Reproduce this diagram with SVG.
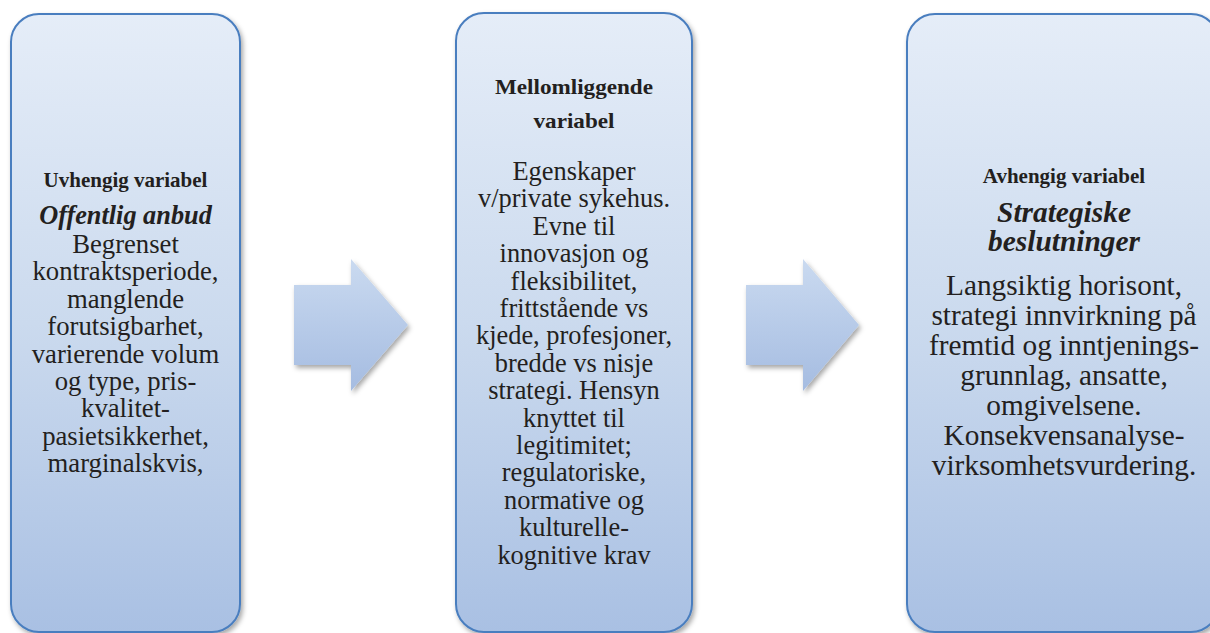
<svg xmlns="http://www.w3.org/2000/svg" width="1210" height="633" viewBox="0 0 1210 633">
  <defs>
    <linearGradient id="boxGrad" x1="0" y1="0" x2="0" y2="1">
      <stop offset="0" stop-color="#E5EDF8"/>
      <stop offset="0.5" stop-color="#CBDAEE"/>
      <stop offset="1" stop-color="#A9C0E3"/>
    </linearGradient>
    <linearGradient id="arrowGrad" x1="0" y1="0" x2="0" y2="1">
      <stop offset="0" stop-color="#CADAF0"/>
      <stop offset="1" stop-color="#A5BCE1"/>
    </linearGradient>
    <filter id="shadow" x="-10%" y="-10%" width="120%" height="120%">
      <feDropShadow dx="2" dy="3" stdDeviation="2.5" flood-color="#000" flood-opacity="0.35"/>
    </filter>
  </defs>
  <style>
    .box { fill: url(#boxGrad); stroke: #4A7EBF; stroke-width: 2; filter: url(#shadow); }
    .arrow { fill: url(#arrowGrad); filter: url(#shadow); }
    text { font-family: "Liberation Serif", "Times New Roman", serif; fill: #231F20; text-anchor: middle; }
    .hdr { font-weight: bold; font-size: 21px; }
    .hdr2 { font-weight: bold; font-size: 21px; }
    .ttl { font-weight: bold; font-style: italic; }
    .body1 { font-size: 26.7px; }
    .body2 { font-size: 26.4px; }
    .body3 { font-size: 29.3px; }
  </style>
  <rect width="1210" height="633" fill="#FFFFFF"/>

  <g id="connectors">
    <polygon class="arrow" points="294,285 351,285 351,259 408,325 351,391 351,365 294,365"/>
    <polygon class="arrow" points="746,285 803,285 803,259 859,325 803,391 803,365 746,365"/>
  </g>

  <g id="node-uvhengig">
    <rect class="box" x="11" y="14" width="229" height="618" rx="28" ry="28"/>
    <text class="hdr" x="125.5" y="187">Uvhengig variabel</text>
    <text class="ttl" x="125.5" y="224" font-size="26.3">Offentlig anbud</text>
    <text class="body1" x="125.5" y="253">Begrenset</text>
    <text class="body1" x="125.5" y="280.4">kontraktsperiode,</text>
    <text class="body1" x="125.5" y="307.8">manglende</text>
    <text class="body1" x="125.5" y="335.2">forutsigbarhet,</text>
    <text class="body1" x="125.5" y="362.6">varierende volum</text>
    <text class="body1" x="125.5" y="390">og type, pris-</text>
    <text class="body1" x="125.5" y="417.4">kvalitet-</text>
    <text class="body1" x="125.5" y="444.8">pasietsikkerhet,</text>
    <text class="body1" x="125.5" y="472.2">marginalskvis,</text>
  </g>

  <g id="node-mellomliggende">
    <rect class="box" x="456" y="13" width="236" height="619" rx="28" ry="28"/>
    <text class="hdr2" x="574" y="94" textLength="158" lengthAdjust="spacingAndGlyphs">Mellomliggende</text>
    <text class="hdr2" x="574" y="128" textLength="81" lengthAdjust="spacingAndGlyphs">variabel</text>
    <text class="body2" x="574" y="180">Egenskaper</text>
    <text class="body2" x="574" y="207.4">v/private sykehus.</text>
    <text class="body2" x="574" y="234.8">Evne til</text>
    <text class="body2" x="574" y="262.2">innovasjon og</text>
    <text class="body2" x="574" y="289.6">fleksibilitet,</text>
    <text class="body2" x="574" y="317">frittstående vs</text>
    <text class="body2" x="574" y="344.4">kjede, profesjoner,</text>
    <text class="body2" x="574" y="371.8">bredde vs nisje</text>
    <text class="body2" x="574" y="399.2">strategi. Hensyn</text>
    <text class="body2" x="574" y="426.6">knyttet til</text>
    <text class="body2" x="574" y="454">legitimitet;</text>
    <text class="body2" x="574" y="481.4">regulatoriske,</text>
    <text class="body2" x="574" y="508.8">normative og</text>
    <text class="body2" x="574" y="536.2">kulturelle-</text>
    <text class="body2" x="574" y="563.6">kognitive krav</text>
  </g>

  <g id="node-avhengig">
    <rect class="box" x="907" y="14" width="312" height="618" rx="28" ry="28"/>
    <text class="hdr" x="1064" y="183">Avhengig variabel</text>
    <text class="ttl" x="1064" y="222" font-size="29.4">Strategiske</text>
    <text class="ttl" x="1064" y="251" font-size="29.4">beslutninger</text>
    <text class="body3" x="1064" y="295">Langsiktig horisont,</text>
    <text class="body3" x="1064" y="325">strategi innvirkning på</text>
    <text class="body3" x="1064" y="355">fremtid og inntjenings-</text>
    <text class="body3" x="1064" y="385">grunnlag, ansatte,</text>
    <text class="body3" x="1064" y="415">omgivelsene.</text>
    <text class="body3" x="1064" y="445">Konsekvensanalyse-</text>
    <text class="body3" x="1064" y="475">virksomhetsvurdering.</text>
  </g>
</svg>
